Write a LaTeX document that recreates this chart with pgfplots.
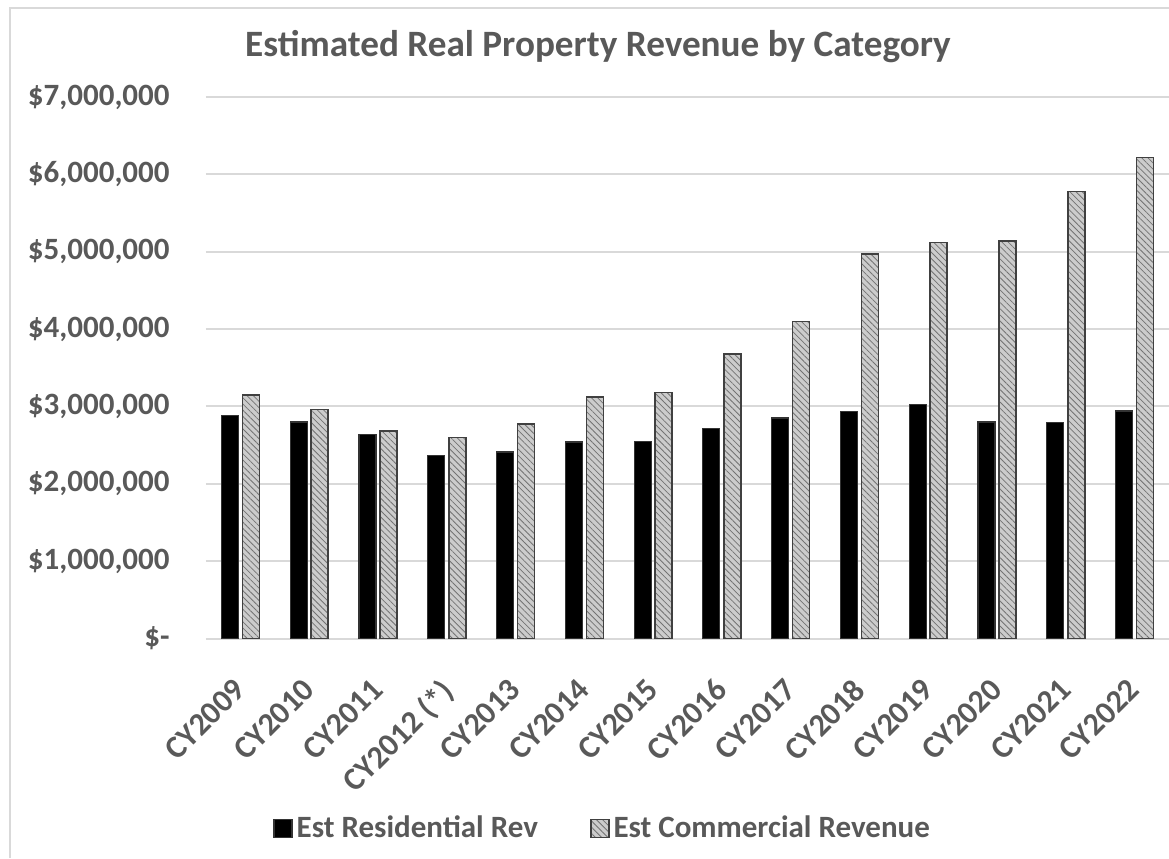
\documentclass[border=0pt]{standalone}
\usepackage{pgfplots}
\pgfplotsset{compat=1.18}
\usetikzlibrary{patterns.meta}
\usepackage{fontspec}
\setmainfont{Carlito}
\definecolor{txt}{HTML}{595959}
\definecolor{grd}{HTML}{D9D9D9}
\pgfplotstableread{
x res com
0 2880000 3150000
1 2800000 2960000
2 2640000 2680000
3 2370000 2600000
4 2410000 2770000
5 2540000 3120000
6 2550000 3180000
7 2710000 3680000
8 2850000 4100000
9 2930000 4970000
10 3020000 5120000
11 2800000 5140000
12 2790000 5780000
13 2940000 6220000
}\data
\begin{document}
\begin{tikzpicture}
\useasboundingbox (0,0) rectangle (584.5pt,429pt);
\draw[grd, line width=0.8pt] (5pt,0) -- (5pt,425pt) -- (584.5pt,425pt);
\node[font=\bfseries\fontsize{18.6}{22}\selectfont, text=txt] at (299pt,405.5pt) {Estimated Real Property Revenue by Category};
\begin{axis}[
  at={(103pt,109.75pt)}, anchor=south west,
  scale only axis, width=481.5pt, height=270.75pt,
  xmin=-0.5, xmax=13.5, ymin=0, ymax=7000000,
  scaled y ticks=false,
  axis line style={draw=none},
  major tick length=0pt,
  ymajorgrids, grid style={grd, line width=1pt},
  ytick={0,1000000,2000000,3000000,4000000,5000000,6000000,7000000},
  yticklabels={{\$-\hspace{20pt}},{\$1,000,000},{\$2,000,000},{\$3,000,000},{\$4,000,000},{\$5,000,000},{\$6,000,000},{\$7,000,000}},
  yticklabel style={font=\bfseries\fontsize{15.5}{18}\selectfont, text=txt, anchor=east, inner sep=0pt, xshift=-18pt},
  xtick={0,...,13},
  xticklabels={CY2009,CY2010,CY2011,CY2012 (*),CY2013,CY2014,CY2015,CY2016,CY2017,CY2018,CY2019,CY2020,CY2021,CY2022},
  xticklabel style={font=\bfseries\fontsize{16}{19}\selectfont, text=txt, xshift=-4pt, yshift=-19pt, rotate=45, anchor=north east, inner sep=0pt},
  ybar=2pt, bar width=8.5pt,
  legend columns=2,
  legend style={at={(0.413,-0.351)}, anchor=center, draw=none, fill=none,
    font=\bfseries\fontsize{15.5}{18}\selectfont, text=txt,
    /tikz/every even column/.style={column sep=24pt}},
  legend image code/.code={\draw[#1] (0pt,-4.5pt) rectangle (9pt,4.5pt);},
]
\addplot[fill=black, draw=black!80, line width=0.6pt] table[x=x,y=res]{\data};
\addplot[fill=black!20, draw=black!75, line width=0.8pt,
  postaction={pattern={Lines[angle=-45,distance=2.2pt,line width=0.4pt]}, pattern color=black!55}] table[x=x,y=com]{\data};
\legend{Est Residential Rev, Est Commercial Revenue}
\end{axis}
\end{tikzpicture}
\end{document}
